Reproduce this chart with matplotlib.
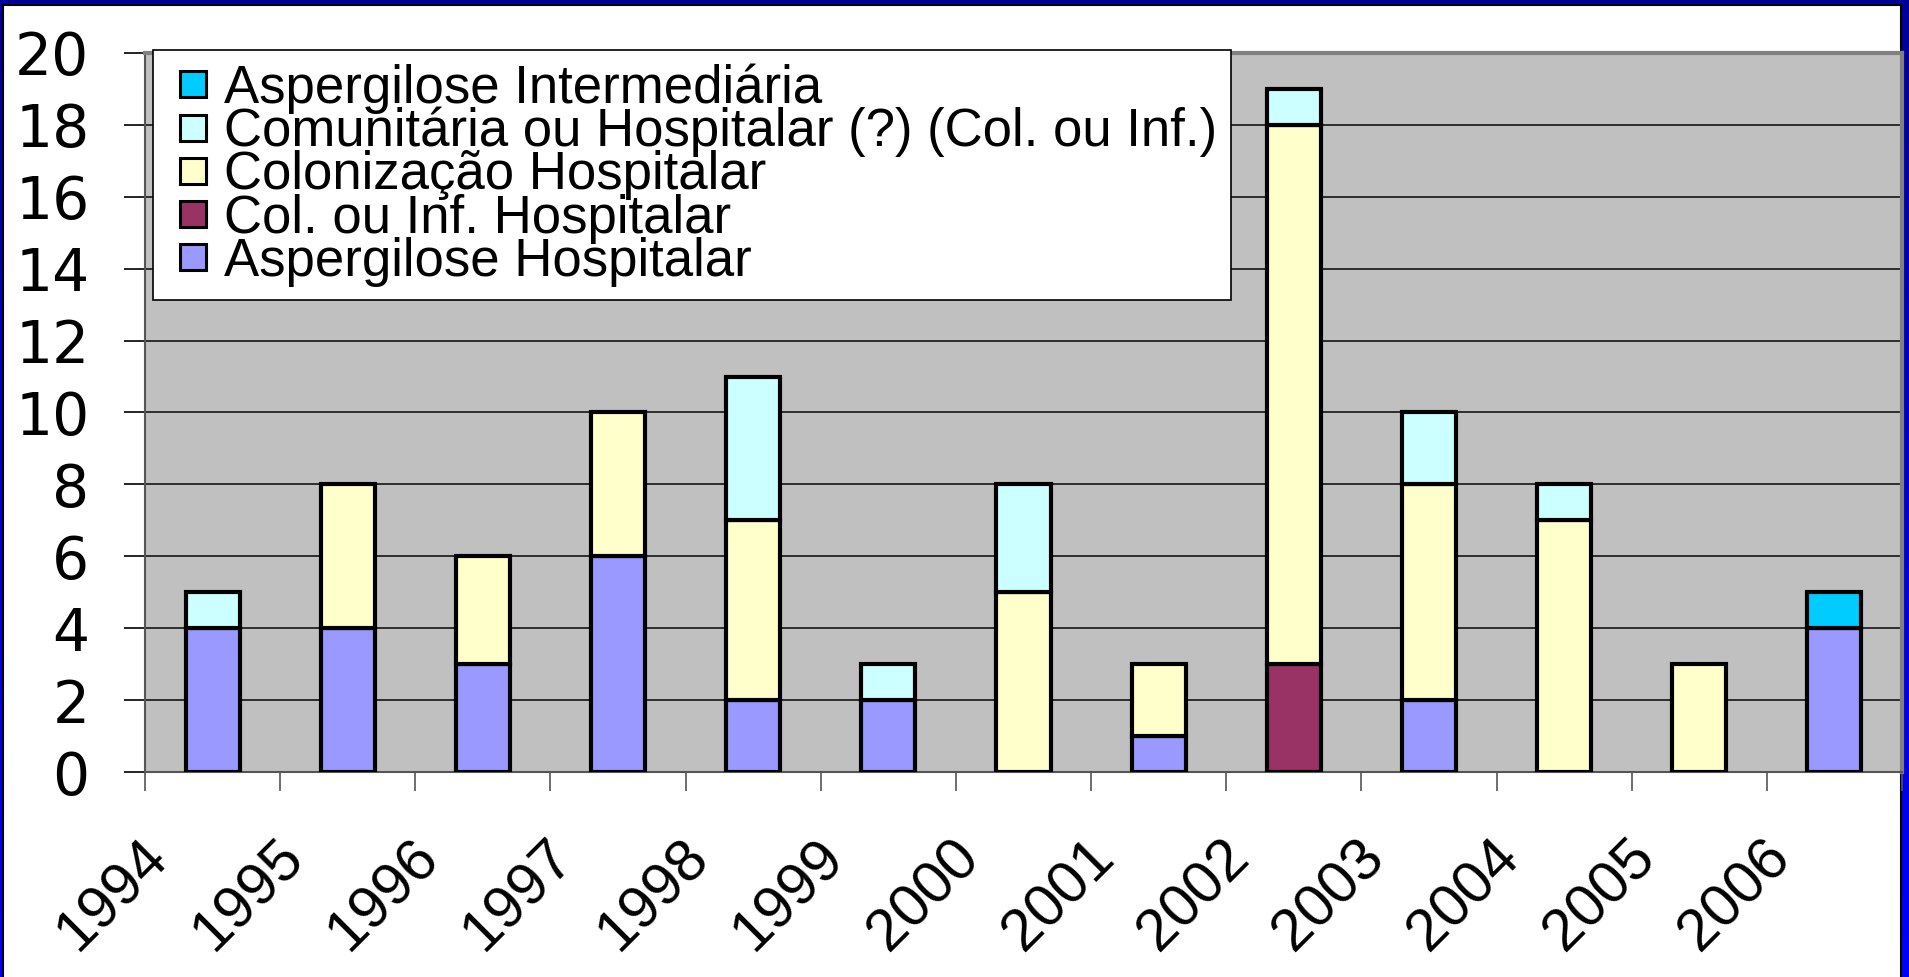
import numpy as np
import matplotlib.pyplot as plt
from matplotlib.patches import Rectangle
from matplotlib.lines import Line2D
from matplotlib.transforms import ScaledTranslation

plt.rcParams['font.family'] = ['Liberation Sans', 'DejaVu Sans']

# Data (cases per year, stacked)
years = ['1994', '1995', '1996', '1997', '1998', '1999', '2000',
         '2001', '2002', '2003', '2004', '2005', '2006']
asp_hospitalar = [4, 4, 3, 6, 2, 2, 0, 1, 0, 2, 0, 0, 4]
col_inf_hosp = [0, 0, 0, 0, 0, 0, 0, 0, 3, 0, 0, 0, 0]
colonizacao = [0, 4, 3, 4, 5, 0, 5, 2, 15, 6, 7, 3, 0]
comunitaria = [1, 0, 0, 0, 4, 1, 3, 0, 1, 2, 1, 0, 0]
intermediaria = [0, 0, 0, 0, 0, 0, 0, 0, 0, 0, 0, 0, 1]

series = [
    ("Aspergilose Hospitalar", asp_hospitalar, '#9999FF'),
    ("Col. ou Inf. Hospitalar", col_inf_hosp, '#993366'),
    ("Colonização Hospitalar", colonizacao, '#FFFFCC'),
    ("Comunitária ou Hospitalar (?) (Col. ou Inf.)", comunitaria, '#CCFFFF'),
    ("Aspergilose Intermediária", intermediaria, '#00CCFF'),
]

W, H = 1909, 977
fig = plt.figure(figsize=(W / 100, H / 100), dpi=100)

# blue slide background with white panel
bg = fig.add_axes([0, 0, 1, 1], zorder=-10)
grad = np.linspace(0, 1, 256).reshape(-1, 1)
bg.imshow(np.dstack([np.zeros_like(grad), np.zeros_like(grad), 0.6 + 0.4 * grad]),
          aspect='auto', extent=[0, 1, 0, 1], origin='upper')
bg.add_patch(Rectangle((3 / W, -0.01), (1901 - 3) / W, 1 - 5 / H + 0.01,
                       facecolor='white', edgecolor='black', lw=1.5))
bg.set_xlim(0, 1)
bg.set_ylim(0, 1)
bg.axis('off')

ax = fig.add_axes([145 / W, 1 - 772 / H, (1902 - 145) / W, (772 - 53) / H])
ax.set_facecolor('#C0C0C0')

x = np.arange(len(years)) + 0.5
bottom = np.zeros(len(years))
handles = []
for label, vals, color in series:
    vals = np.array(vals, dtype=float)
    m = vals > 0
    ax.bar(x[m], vals[m], bottom=bottom[m], width=0.4, color=color,
           edgecolor='black', linewidth=3.0, zorder=3)
    bottom += vals
    handles.append(Line2D([], [], linestyle='none', marker='s', markersize=19,
                          markerfacecolor=color, markeredgecolor='black',
                          markeredgewidth=2.2, label=label))

ax.set_xlim(0, len(years))
ax.set_ylim(0, 20)
ax.set_yticks(np.arange(0, 21, 2))
ax.set_yticklabels([str(v) for v in range(0, 21, 2)], family='DejaVu Sans', fontsize=42)
ax.yaxis.grid(True, color='#222222', linewidth=1.3, zorder=1)
ax.set_axisbelow(True)
ax.tick_params(axis='y', length=15, width=1.2, pad=25, color='black')

ax.set_xticks(np.arange(len(years) + 1))
ax.set_xticklabels(years + [''], rotation=45, ha='right', va='top',
                   rotation_mode='anchor', fontsize=42.5)
ax.tick_params(axis='x', length=13.5, width=1.2, pad=28, color='#555555')
shift = ScaledTranslation(-5 / 100, 0, fig.dpi_scale_trans)
for lab in ax.get_xticklabels():
    lab.set_transform(lab.get_transform() + shift)

for s in ['top', 'right']:
    ax.spines[s].set_color('#808080')
    ax.spines[s].set_linewidth(3)
for s in ['left', 'bottom']:
    ax.spines[s].set_color('#555555')
    ax.spines[s].set_linewidth(1.5)

leg = fig.legend(handles=handles[::-1], loc='upper left',
                 bbox_to_anchor=(153 / W, 1 - 50 / H), bbox_transform=fig.transFigure,
                 borderaxespad=0, fontsize=38, frameon=True, fancybox=False,
                 edgecolor='black', framealpha=1, handlelength=1.0,
                 handletextpad=0.1, labelspacing=-0.13, borderpad=0.25)
leg.get_frame().set_linewidth(1.2)
leg.set_zorder(10)

fig.savefig('out.png', dpi=100)
